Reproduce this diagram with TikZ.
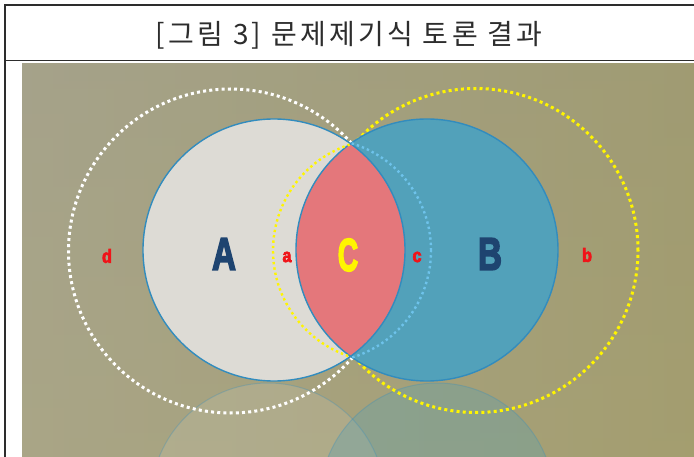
\documentclass[tikz,border=0pt]{standalone}
\usepackage{fontspec}
\setmainfont{Liberation Sans}
\newfontfamily\heavy{Liberation Sans Bold}[FakeBold=4]
\newfontfamily\kr{Noto Sans CJK KR}[LetterSpace=12]
\usetikzlibrary{calc}
\definecolor{bgL}{RGB}{166,164,144}
\definecolor{bgM}{RGB}{164,160,128}
\definecolor{bgR}{RGB}{158,153,108}
\definecolor{bgBL}{RGB}{176,168,118}
\definecolor{aFill}{RGB}{221,219,213}
\definecolor{bFill}{RGB}{82,161,186}
\definecolor{lensFill}{RGB}{228,119,123}
\definecolor{edge}{RGB}{50,140,190}
\definecolor{navy}{RGB}{30,68,112}
\definecolor{lbdot}{RGB}{110,195,235}
\definecolor{ydot}{RGB}{255,245,0}
\definecolor{redlab}{RGB}{240,20,25}
\definecolor{frame}{RGB}{45,45,45}
\tikzset{
  bigdot/.style={line width=3pt, dash pattern=on 3pt off 3.2pt},
  smalldot/.style={line width=2.4pt, dash pattern=on 2.4pt off 3pt},
  bigletter/.style={font=\heavy\fontsize{46}{46}\selectfont, inner sep=0pt, xscale=0.72},
  smalllab/.style={font=\heavy\fontsize{19}{19}\selectfont, text=redlab, inner sep=0pt, xscale=0.85},
  frameline/.style={draw=frame, line width=1.3pt}
}
\begin{document}
\begin{tikzpicture}[x=1pt,y=-1pt]
\useasboundingbox (0,0) rectangle (694,457);
\fill[white] (0,0) rectangle (694,457);
% photo background
\shade[left color=bgL, middle color=bgM, right color=bgR] (22,64) rectangle (694,457);
\shade[top color=bgM, bottom color=bgBL, opacity=0.35] (22,64) rectangle (694,457);
% reflections
\fill[white, opacity=0.1] (268,500) circle[radius=117pt];
\fill[bFill, opacity=0.3] (437,500) circle[radius=117pt];
\draw[edge, opacity=0.3, line width=1pt] (268,500) circle[radius=117pt];
\draw[edge, opacity=0.3, line width=1pt] (437,500) circle[radius=117pt];
% big dotted circles
\draw[bigdot, white] (230.5,251) circle[radius=162pt];
\draw[bigdot, ydot] (476,250.5) circle[radius=162pt];
% A and B
\fill[aFill] (274,250) circle[radius=131pt];
\fill[bFill] (427,250) circle[radius=131pt];
\begin{scope}
  \clip (274,250) circle[radius=131pt];
  \fill[lensFill] (427,250) circle[radius=131pt];
\end{scope}
\draw[edge, line width=1.4pt] (274,250) circle[radius=131pt];
\draw[edge, line width=1.4pt] (427,250) circle[radius=131pt];
% inner dotted arcs
\begin{scope}
  \clip (0,0) rectangle (350.5,457);
  \draw[smalldot, ydot] (384.5,250.5) circle[radius=111.5pt];
\end{scope}
\begin{scope}
  \clip (350.5,0) rectangle (694,457);
  \draw[smalldot, lbdot] (319,250.5) circle[radius=112pt];
\end{scope}
% labels
\node[bigletter, text=navy] (A) at (224,254) {A};
\node[bigletter, text=navy] (B) at (490,254) {B};
\node[bigletter, text=ydot, xscale=0.85] (C) at (348,255) {C};
\node[smalllab] (la) at (287,257) {a};
\node[smalllab] (lc) at (417,257) {c};
\node[smalllab] (ld) at (107,256) {d};
\node[smalllab] (lb) at (587,255) {b};
% frame
\draw[frameline] (5,457) -- (5,5) -- (694,5);
\draw[frameline] (5,60.5) -- (694,60.5);
\node[font=\kr\fontsize{28}{28}\selectfont, text=frame, inner sep=0pt] (title) at (349,35) {[그림 3] 문제제기식 토론 결과};
\end{tikzpicture}
\end{document}
